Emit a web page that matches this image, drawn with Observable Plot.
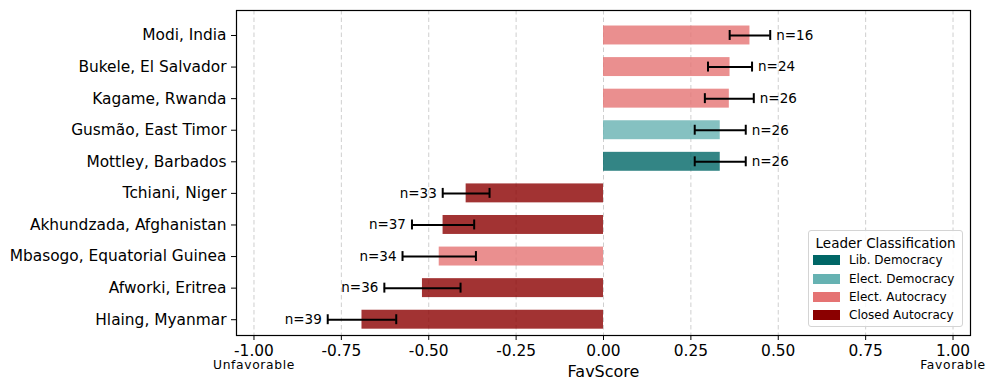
<!DOCTYPE html>
<html>
<head>
<meta charset="utf-8">
<script src="https://cdn.jsdelivr.net/npm/d3@7"></script>
<script src="https://cdn.jsdelivr.net/npm/@observablehq/plot@0.6"></script>
<style>
  html, body { margin: 0; padding: 0; background: #fff; }
  #wrap { position: relative; width: 997px; height: 391px; font-family: "DejaVu Sans", sans-serif; }
  #legend { position: absolute; left: 808px; top: 230px; width: 155px; height: 97px;
    border: 1px solid #d4d4d4; border-radius: 3px; background: rgba(255,255,255,0.85);
    box-sizing: border-box; font-family: "DejaVu Sans", sans-serif; color: #000; }
  #legend .title { font-size: 13.5px; text-align: center; margin-top: 4px; line-height: 16px; }
  #legend .item { display: flex; align-items: center; height: 18.4px; font-size: 12px; padding-left: 4px; }
  #legend .sw { width: 27px; height: 10px; margin-right: 9px; }
</style>
</head>
<body>
<div id="wrap"></div>
<script>
const leaders = ["Modi, India", "Bukele, El Salvador", "Kagame, Rwanda", "Gusmão, East Timor", "Mottley, Barbados", "Tchiani, Niger", "Akhundzada, Afghanistan", "Mbasogo, Equatorial Guinea", "Afworki, Eritrea", "Hlaing, Myanmar"];
const scores = [0.419, 0.362, 0.360, 0.334, 0.334, -0.393, -0.459, -0.470, -0.518, -0.691];
const errors = [0.058, 0.063, 0.070, 0.073, 0.073, 0.067, 0.089, 0.105, 0.109, 0.098];
const counts = [16, 24, 26, 26, 26, 33, 37, 34, 36, 39];
const classes = ["Elect. Autocracy", "Elect. Autocracy", "Elect. Autocracy", "Elect. Democracy", "Lib. Democracy", "Closed Autocracy", "Closed Autocracy", "Elect. Autocracy", "Closed Autocracy", "Closed Autocracy"];
const classNames = ["Lib. Democracy", "Elect. Democracy", "Elect. Autocracy", "Closed Autocracy"];
const classColors = ["#006666", "#66b2b2", "#e57373", "#8b0000"];
const xTicks = [-1, -0.75, -0.5, -0.25, 0, 0.25, 0.5, 0.75, 1];
const endLabels = ["Unfavorable", "Favorable"];
const endLabelX = [-1, 1];
const axisTitle = "FavScore";
const legendTitle = "Leader Classification";

const data = leaders.map((name, i) => ({
  name, score: scores[i], lo: scores[i] - errors[i], hi: scores[i] + errors[i],
  n: counts[i], cls: classes[i]
}));
const ends = endLabels.map((t, i) => ({t, x: endLabelX[i]}));

const font = "DejaVu Sans";
const plot = Plot.plot({
  width: 997,
  height: 391,
  marginLeft: 236,
  marginRight: 27,
  marginTop: 10,
  marginBottom: 56,
  style: {fontFamily: font, fontSize: "15.4px", color: "#000", background: "#fff"},
  x: {domain: [-1.05, 1.05]},
  y: {domain: leaders, paddingInner: 0.4, paddingOuter: 0.2, insetTop: 9.2, round: false},
  color: {domain: classNames, range: classColors},
  marks: [
    Plot.gridX(xTicks, {stroke: "#cfcfcf", strokeOpacity: 1, strokeDasharray: "4.5,3", strokeWidth: 1}),
    Plot.barX(data, {y: "name", x1: 0, x2: "score", fill: "cls", fillOpacity: 0.8}),
    Plot.ruleY(data, {y: "name", x1: "lo", x2: "hi", stroke: "#000", strokeWidth: 2}),
    Plot.tickX(data, {y: "name", x: "lo", stroke: "#000", strokeWidth: 2, insetTop: 4.5, insetBottom: 4.5}),
    Plot.tickX(data, {y: "name", x: "hi", stroke: "#000", strokeWidth: 2, insetTop: 4.5, insetBottom: 4.5}),
    Plot.text(data.filter(d => d.score >= 0), {y: "name", x: "hi", text: d => "n=" + d.n, textAnchor: "start", dx: 6, fontSize: 13.5, fill: "#000"}),
    Plot.text(data.filter(d => d.score < 0), {y: "name", x: "lo", text: d => "n=" + d.n, textAnchor: "end", dx: -6, fontSize: 13.5, fill: "#000"}),
    Plot.axisX({ticks: xTicks, tickFormat: d => d.toFixed(2), tickSize: 5, tickPadding: 4.5, label: null, fontSize: 15.4}),
    Plot.axisY({tickSize: 5, tickPadding: 5, label: null, fontSize: 15.4}),
    Plot.text(ends, {x: "x", text: "t", frameAnchor: "bottom", lineAnchor: "bottom", dy: 33, fontSize: 12.3, fill: "#000"}),
    Plot.text([axisTitle], {frameAnchor: "bottom", lineAnchor: "bottom", dy: 41.7, fontSize: 16, fill: "#000"}),
    Plot.frame({stroke: "#000", strokeWidth: 1.2})
  ]
});

// widen the end labels slightly to match the reference's letter spacing
d3.select(plot).selectAll("text").filter(function() { return endLabels.includes(this.textContent); })
  .attr("letter-spacing", "0.65px");

const wrap = document.getElementById("wrap");
wrap.appendChild(plot);

const leg = document.createElement("div");
leg.id = "legend";
const t = document.createElement("div");
t.className = "title";
t.textContent = legendTitle;
leg.appendChild(t);
classNames.forEach((c, i) => {
  const it = document.createElement("div");
  it.className = "item";
  const sw = document.createElement("span");
  sw.className = "sw";
  sw.style.background = classColors[i];
  const lb = document.createElement("span");
  lb.textContent = c;
  it.appendChild(sw);
  it.appendChild(lb);
  leg.appendChild(it);
});
wrap.appendChild(leg);
</script>
</body>
</html>
